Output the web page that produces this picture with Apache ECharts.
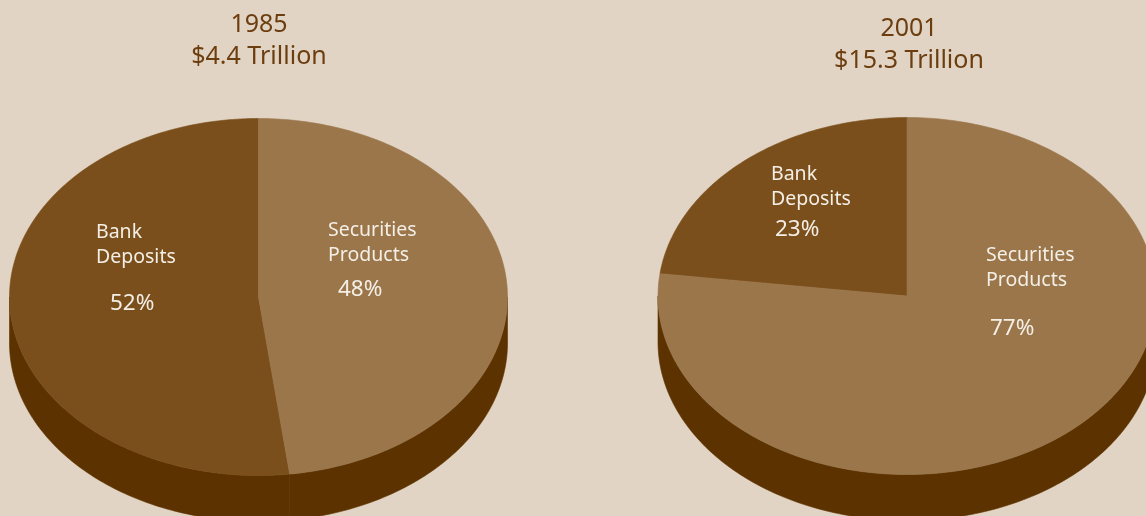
<!DOCTYPE html>
<html>
<head>
<meta charset="utf-8">
<script src="https://cdn.jsdelivr.net/npm/echarts@6/dist/echarts.min.js"></script>
<style>
  html, body { margin: 0; padding: 0; background: #E2D4C4; }
  #chart { width: 1146px; height: 516px; }
</style>
</head>
<body>
<div id="chart"></div>
<script>
// Where household financial assets were held
const categories = ['Bank Deposits', 'Securities Products'];
const years = ['1985', '2001'];
const totals = ['$4.4 Trillion', '$15.3 Trillion'];
const shares1985 = [52, 48];
const shares2001 = [23, 77];

const COLORS = {
  bg: '#E2D4C4',
  slices: ['#7A4F1B', '#9A764A'],
  wall: '#5C3200',
  title: '#6B3D0F',
  label: '#F4EFE6'
};
const FONT = '"Noto Sans", "Open Sans", sans-serif';

// Geometry of each tilted pie and the label anchors inside its slices (offsets from the centre)
const pies = [
  {
    year: years[0], total: totals[0], shares: shares1985,
    cx: 258.5, cy: 297, rx: 249, ry: 178.5, depth: 46,
    titleX: 254, titleY: 4,
    nameAt: [[-162.5, -52], [69.5, -54]],
    pctAt: [[-148.5, 7], [79.5, -7]]
  },
  {
    year: years[1], total: totals[1], shares: shares2001,
    cx: 907, cy: 296, rx: 249, ry: 178.5, depth: 46,
    titleX: 904, titleY: 8,
    nameAt: [[-136, -109], [79, -28.5]],
    pctAt: [[-132, -66], [83, 33]]
  }
];

// Points along the ellipse rim; t is measured from 12 o'clock, counter-clockwise
function arcPoints(p, t0, t1, dy) {
  const n = Math.max(2, Math.ceil(Math.abs(t1 - t0) / (Math.PI / 180)));
  const pts = [];
  for (let k = 0; k <= n; k++) {
    const t = t0 + (t1 - t0) * k / n;
    pts.push([p.cx - p.rx * Math.sin(t), p.cy - p.ry * Math.cos(t) + dy]);
  }
  return pts;
}

function makeRender(p) {
  return function (params, api) {
    const i = params.dataIndex;
    let sum = 0, before = 0;
    for (let k = 0; k < p.shares.length; k++) {
      sum += p.shares[k];
      if (k < i) before += p.shares[k];
    }
    const v = api.value(0);
    const t0 = before / sum * 2 * Math.PI;
    const t1 = (before + v) / sum * 2 * Math.PI;
    const children = [];

    // front wall: only the part of the rim on the lower half of the ellipse
    const w0 = Math.max(t0, Math.PI / 2);
    const w1 = Math.min(t1, 1.5 * Math.PI);
    if (w1 > w0) {
      const top = arcPoints(p, w0, w1, 0);
      const bottom = arcPoints(p, w0, w1, p.depth).reverse();
      children.push({
        type: 'polygon', z2: 0,
        shape: { points: top.concat(bottom) },
        style: { fill: COLORS.wall, stroke: COLORS.wall, lineWidth: 0.6 }
      });
    }

    // top face of the slice
    children.push({
      type: 'polygon', z2: 1,
      shape: { points: [[p.cx, p.cy]].concat(arcPoints(p, t0, t1, 0)) },
      style: { fill: COLORS.slices[i], stroke: COLORS.slices[i], lineWidth: 0.6 }
    });

    // category name and share
    const name = categories[i].replace(' ', '\n');
    children.push({
      type: 'text', z2: 2,
      x: p.cx + p.nameAt[i][0], y: p.cy + p.nameAt[i][1],
      style: {
        text: name, fill: COLORS.label, fontSize: 19.5, lineHeight: 25,
        fontFamily: FONT, align: 'left', verticalAlign: 'middle'
      }
    });
    children.push({
      type: 'text', z2: 2,
      x: p.cx + p.pctAt[i][0], y: p.cy + p.pctAt[i][1],
      style: {
        text: v + '%', fill: COLORS.label, fontSize: 22.5,
        fontFamily: FONT, align: 'left', verticalAlign: 'middle'
      }
    });
    return { type: 'group', children: children };
  };
}

const chart = echarts.init(document.getElementById('chart'), null, { renderer: 'canvas' });
chart.setOption({
  backgroundColor: COLORS.bg,
  animation: false,
  title: pies.map(function (p) {
    return {
      text: p.year + '\n' + p.total,
      left: p.titleX, top: p.titleY, textAlign: 'center',
      textStyle: { fontSize: 25, lineHeight: 32, color: COLORS.title, fontWeight: 'normal', fontFamily: FONT }
    };
  }),
  series: pies.map(function (p) {
    return {
      type: 'custom',
      coordinateSystem: 'none',
      silent: true,
      renderItem: makeRender(p),
      data: p.shares.map(function (v, i) { return { name: categories[i], value: [v] }; })
    };
  })
});
</script>
</body>
</html>
